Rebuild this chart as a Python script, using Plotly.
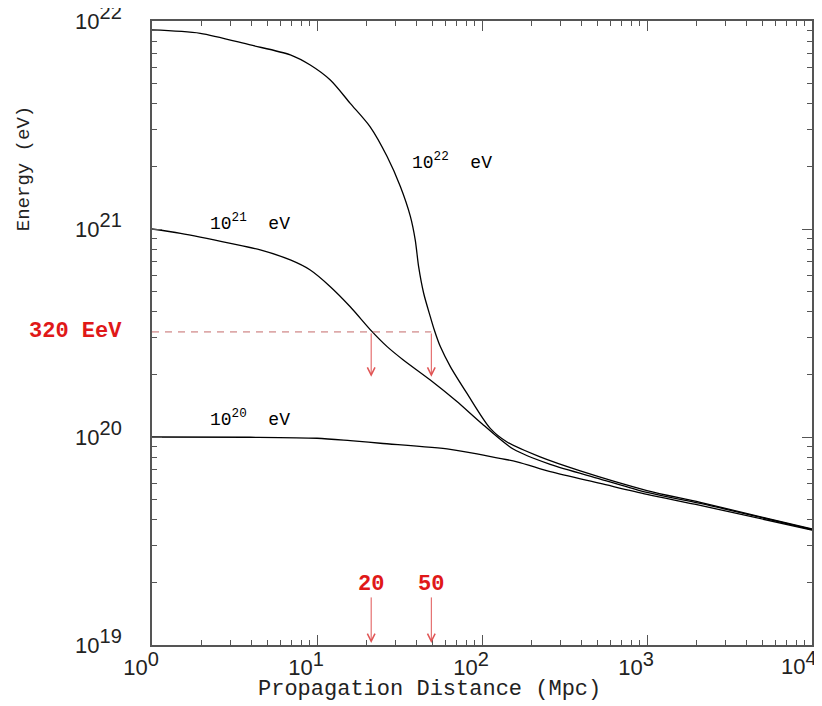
import numpy as np
import plotly.graph_objects as go

# ---- data ----
dist_22 = [1, 1.96, 3.94, 6.89, 9.1, 12.04, 15.9, 21.0, 26.6, 32.0, 36.8, 39.4, 41.3,
           44.3, 48.6, 51.4, 55.9, 64.3, 81.1, 112.2, 141.8, 225, 394, 1000, 2104, 10000]
energy_22 = [9.06e21, 8.73e21, 7.67e21, 6.87e21, 6.14e21, 5.20e21, 4.02e21, 3.10e21,
             2.23e21, 1.60e21, 1.15e21, 8.85e20, 6.59e20, 4.91e20, 3.79e20, 3.27e20,
             2.72e20, 2.18e20, 1.62e20, 1.10e20, 9.46e19, 8.02e19, 6.87e19, 5.53e19,
             4.85e19, 3.61e19]

dist_21 = [1, 1.49, 2.99, 4.53, 6.89, 9.1, 12.04, 15.9, 21.5, 26.6, 33.5, 48.6, 69.9,
           100.4, 154.6, 259, 521, 1000, 2104, 10000]
energy_21 = [1e21, 9.53e20, 8.53e20, 7.93e20, 7.10e20, 6.35e20, 5.28e20, 4.23e20,
             3.22e20, 2.72e20, 2.34e20, 1.88e20, 1.49e20, 1.155e20, 8.75e19, 7.38e19,
             6.28e19, 5.41e19, 4.79e19, 3.59e19]

dist_20 = [1, 3.94, 10, 15.9, 24.2, 64.2, 102, 163, 259, 521, 1000, 2104, 10000]
energy_20 = [1e20, 9.97e19, 9.86e19, 9.6e19, 9.33e19, 8.73e19, 8.18e19, 7.6e19,
             6.81e19, 5.98e19, 5.30e19, 4.69e19, 3.57e19]

curve_labels = ["10<sup>22</sup>  eV", "10<sup>21</sup>  eV", "10<sup>20</sup>  eV"]
label_dist = [36.8, 2.17, 2.17]
label_energy = [2.1e21, 1.07e21, 1.23e20]

threshold_energy = 3.2e20          # 320 EeV
threshold_label = "320 EeV"
arrow_dist = [21.3, 49.3]
arrow_labels = ["20", "50"]

x_tickvals = [1, 10, 100, 1000, 10000]
x_exps = ["0", "1", "2", "3", "4"]
y_tickvals = [1e19, 1e20, 1e21, 1e22]
y_exps = ["19", "20", "21", "22"]
minor_x = [m * 10 ** k for k in range(0, 4) for m in range(2, 10)]
minor_y = [m * 10.0 ** k for k in range(19, 22) for m in range(2, 10)]

MONO = "Liberation Mono"
SANS = "Liberation Sans"
RED = "#e01818"
ARROW_RED = "#e05555"
DASH_RED = "#c46a6a"


def pow_label(e):
    return "10<sup><span style='font-size:20px'>%s</span></sup>" % e


fig = go.Figure()
for d, e in [(dist_22, energy_22), (dist_21, energy_21), (dist_20, energy_20)]:
    fig.add_trace(go.Scatter(x=d, y=e, mode="lines",
                             line=dict(color="black", width=1.3, shape="spline", smoothing=0.8),
                             showlegend=False, hoverinfo="skip"))

# dashed threshold line
fig.add_trace(go.Scatter(x=[1, arrow_dist[1]], y=[threshold_energy, threshold_energy],
                         mode="lines", line=dict(color=DASH_RED, width=1, dash="7px,6px"),
                         showlegend=False, hoverinfo="skip"))

annotations = []
for txt, xd, ye in zip(curve_labels, label_dist, label_energy):
    annotations.append(dict(x=np.log10(xd), y=np.log10(ye), xref="x", yref="y",
                            text=txt, showarrow=False, xanchor="left", yanchor="middle",
                            font=dict(family=MONO, size=18, color="black")))

ly = np.log10(threshold_energy)
for xd, lab in zip(arrow_dist, arrow_labels):
    lx = np.log10(xd)
    annotations.append(dict(x=lx, y=20.29, ax=lx, ay=ly, xref="x", yref="y",
                            axref="x", ayref="y", text="", showarrow=True,
                            arrowhead=5, arrowsize=1.5, arrowwidth=1, arrowcolor=ARROW_RED))
    annotations.append(dict(x=lx, y=19.01, ax=lx, ay=19.236, xref="x", yref="y",
                            axref="x", ayref="y", text="", showarrow=True,
                            arrowhead=5, arrowsize=1.5, arrowwidth=1, arrowcolor=ARROW_RED))
    annotations.append(dict(x=lx, y=19.293, xref="x", yref="y", text="<b>%s</b>" % lab,
                            showarrow=False, xanchor="center", yanchor="middle",
                            font=dict(family=MONO, size=22, color=RED)))

annotations.append(dict(x=-0.042, y=0.502, xref="paper", yref="paper",
                        text="<b>%s</b>" % threshold_label, showarrow=False,
                        xanchor="right", yanchor="middle",
                        font=dict(family=MONO, size=22, color=RED)))

# last x tick label (placed so it stays inside the page, as in the reference)
annotations.append(dict(x=np.log10(x_tickvals[-1]), y=-0.0288, xref="x", yref="paper",
                        text=pow_label(x_exps[-1]), showarrow=False,
                        xanchor="right", yanchor="middle", xshift=7,
                        font=dict(family=SANS, size=22, color="#222")))

# axis titles
annotations.append(dict(x=0.42, y=-0.072, xref="paper", yref="paper",
                        text="Propagation Distance (Mpc)", showarrow=False,
                        xanchor="center", yanchor="middle",
                        font=dict(family=MONO, size=22, color="#222")))
annotations.append(dict(x=-0.194, y=0.764, xref="paper", yref="paper",
                        text="Energy (eV)", showarrow=False, textangle=-90,
                        xanchor="center", yanchor="middle",
                        font=dict(family=MONO, size=19, color="#222")))

axis_common = dict(type="log", showline=True, linecolor="#555", linewidth=1.6,
                   mirror="ticks", ticks="inside", ticklen=10, tickwidth=1.2,
                   tickcolor="#555", showgrid=False, zeroline=False,
                   ticklabeloverflow="allow", automargin=False,
                   tickfont=dict(family=SANS, size=22, color="#222"))

x_ticktext = [pow_label(e) for e in x_exps[:-1]] + [""]

fig.update_layout(
    width=814, height=698,
    margin=dict(l=144, r=10, t=13, b=61, autoexpand=False),
    plot_bgcolor="white", paper_bgcolor="white",
    xaxis=dict(range=[0, 4], tickvals=x_tickvals, ticktext=x_ticktext,
               ticklabelstandoff=2, ticklabelshift=-11,
               minor=dict(tickvals=minor_x, ticks="inside", ticklen=5, tickwidth=1,
                          tickcolor="#555", showgrid=False),
               **axis_common),
    yaxis=dict(range=[19, 22], tickvals=y_tickvals, ticktext=[pow_label(e) for e in y_exps],
               ticklabelstandoff=24,
               minor=dict(tickvals=minor_y, ticks="inside", ticklen=5, tickwidth=1,
                          tickcolor="#555", showgrid=False),
               **axis_common),
    annotations=annotations,
)

fig.write_html("out.html")
